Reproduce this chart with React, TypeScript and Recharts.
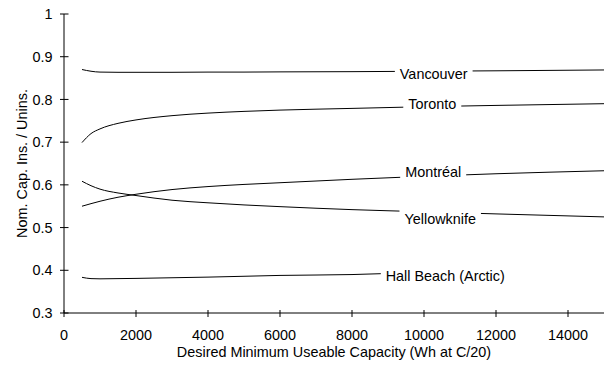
import React from 'react';
import { LineChart, Line, XAxis, YAxis, ReferenceDot, Label } from 'recharts';

// ---- data ----
const capacity = [500, 750, 1000, 1500, 2000, 3000, 4000, 5000, 6000, 8000, 10000, 12000, 15000];
const vancouver = [0.870, 0.866, 0.864, 0.8635, 0.8635, 0.8635, 0.864, 0.864, 0.8645, 0.865, 0.866, 0.867, 0.869];
const toronto = [0.699, 0.72, 0.731, 0.744, 0.752, 0.762, 0.768, 0.772, 0.775, 0.779, 0.783, 0.786, 0.79];
const montreal = [0.55, 0.556, 0.5616, 0.571, 0.578, 0.589, 0.596, 0.601, 0.605, 0.613, 0.62, 0.626, 0.633];
const yellowknife = [0.6085, 0.598, 0.59, 0.581, 0.575, 0.564, 0.558, 0.553, 0.549, 0.542, 0.537, 0.532, 0.525];
const hallBeachCapacity = [500, 750, 1000, 1500, 2000, 3000, 4000, 5000, 6000, 8000, 8800];
const hallBeach = [0.3835, 0.3805, 0.38, 0.3805, 0.381, 0.3825, 0.384, 0.386, 0.388, 0.39, 0.392];

const xTicks = [0, 2000, 4000, 6000, 8000, 10000, 12000, 14000];
const yTicks = [0.3, 0.4, 0.5, 0.6, 0.7, 0.8, 0.9, 1];

const seriesNames = ['Vancouver', 'Toronto', 'Montréal', 'Yellowknife', 'Hall Beach (Arctic)'];
const labelX = [10270, 10230, 10255, 10450, 10590];
const labelY = [0.861, 0.789, 0.631, 0.5206, 0.3879];
const labelGap = [true, true, true, true, false];

const xTitle = 'Desired Minimum Useable Capacity (Wh at C/20)';
const yTitle = 'Nom. Cap. Ins. / Unins.';

// ---- helpers ----
const FONT = '"Liberation Sans", Arial, Helvetica, sans-serif';
const FS = 14.4;

const toPoints = (xs: number[], ys: number[]) => xs.map((x, i) => ({ x, y: ys[i] }));
const series = [
  toPoints(capacity, vancouver),
  toPoints(capacity, toronto),
  toPoints(capacity, montreal),
  toPoints(capacity, yellowknife),
  toPoints(hallBeachCapacity, hallBeach),
];

let ctx: CanvasRenderingContext2D | null = null;
const measure = (s: string) => {
  if (!ctx) {
    const c = document.createElement('canvas');
    ctx = c.getContext('2d');
  }
  if (!ctx) return s.length * 7;
  ctx.font = `${FS}px "Liberation Sans", Arial, sans-serif`;
  return ctx.measureText(s).width;
};

const XTick = (props: any) => {
  const { x, y, payload } = props;
  return (
    <g>
      <line x1={x} x2={x} y1={y - 3} y2={y + 4} stroke="#000" strokeWidth={1} />
      <text x={x} y={y + 26.7} textAnchor="middle" fontFamily={FONT} fontSize={FS} fill="#000">
        {String(payload.value)}
      </text>
    </g>
  );
};

const YTick = (props: any) => {
  const { x, y, payload } = props;
  return (
    <g>
      <line x1={x - 4} x2={x + 4.5} y1={y} y2={y} stroke="#000" strokeWidth={1} />
      <text x={x - 11.6} y={y + 5.2} textAnchor="end" fontFamily={FONT} fontSize={FS} fill="#000">
        {String(payload.value)}
      </text>
    </g>
  );
};

const makeLabelShape = (name: string, gap: boolean) => (p: any) => {
  const { cx, cy } = p;
  const w = measure(name);
  return (
    <g>
      {gap && <rect x={cx - w / 2 - 5} y={cy - 10} width={w + 10} height={20} fill="#fff" />}
      <text x={cx} y={cy + 5.2} textAnchor="middle" fontFamily={FONT} fontSize={FS} fill="#000">
        {name}
      </text>
    </g>
  );
};

export default function App() {
  return (
    <div style={{ position: 'absolute', left: 0, top: 0, width: 608, height: 366, background: '#fff' }}>
      <LineChart width={608} height={366} margin={{ top: 14, right: 4, bottom: 0, left: 0 }}>
        <XAxis
          dataKey="x"
          type="number"
          domain={[0, 15000]}
          ticks={xTicks}
          allowDataOverflow
          height={53}
          tickSize={0}
          tickMargin={0}
          tickLine={false}
          axisLine={{ stroke: '#000', strokeWidth: 1 }}
          tick={<XTick />}
        >
          <Label
            content={(p: any) => {
              const vb = p.viewBox;
              return (
                <text x={vb.x + vb.width / 2} y={vb.y + 44} textAnchor="middle" fontFamily={FONT} fontSize={FS} fill="#000">
                  {xTitle}
                </text>
              );
            }}
          />
        </XAxis>
        <YAxis
          type="number"
          domain={[0.3, 1]}
          ticks={yTicks}
          allowDataOverflow
          width={64}
          tickSize={0}
          tickMargin={0}
          tickLine={false}
          axisLine={{ stroke: '#000', strokeWidth: 1 }}
          tick={<YTick />}
        >
          <Label
            content={(p: any) => {
              const vb = p.viewBox;
              const cx = 27;
              const cy = vb.y + vb.height / 2;
              return (
                <text x={cx} y={cy} transform={`rotate(-90 ${cx} ${cy})`} textAnchor="middle" fontFamily={FONT} fontSize={FS} fill="#000">
                  {yTitle}
                </text>
              );
            }}
          />
        </YAxis>
        {series.map((d, i) => (
          <Line
            key={seriesNames[i]}
            data={d}
            dataKey="y"
            type="monotone"
            stroke="#000"
            strokeWidth={1}
            dot={false}
            activeDot={false}
            isAnimationActive={false}
          />
        ))}
        {seriesNames.map((n, i) => (
          <ReferenceDot
            key={'lbl' + n}
            x={labelX[i]}
            y={labelY[i]}
            r={0}
            ifOverflow="visible"
            shape={makeLabelShape(n, labelGap[i])}
          />
        ))}
      </LineChart>
    </div>
  );
}
